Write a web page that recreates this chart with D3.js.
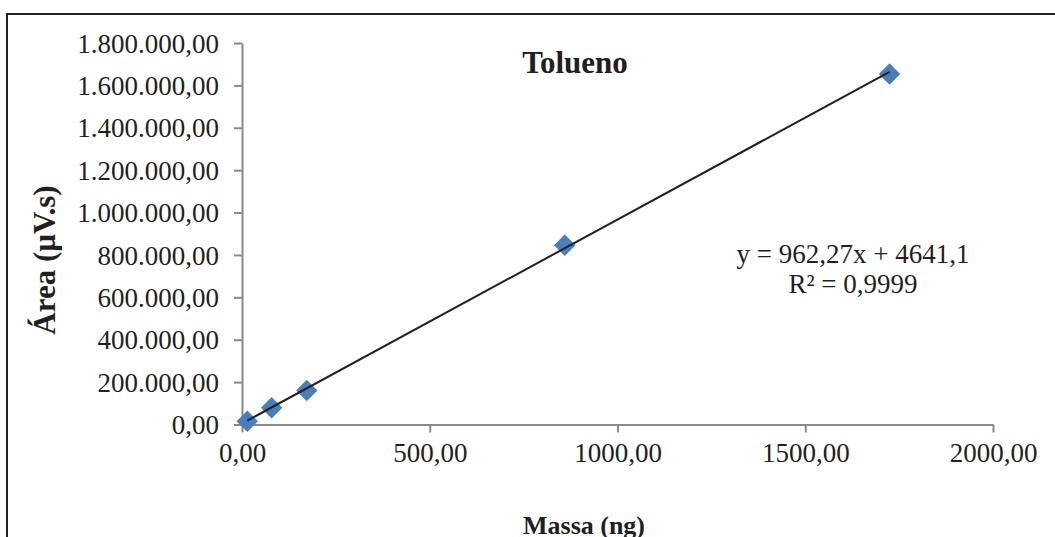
<!DOCTYPE html>
<html>
<head>
<meta charset="utf-8">
<script src="https://cdn.jsdelivr.net/npm/d3@7"></script>
<style>
  body { margin: 0; background: #fff; }
  text { font-family: "Liberation Serif", "Times New Roman", serif; fill: #231f20; }
</style>
</head>
<body>
<svg id="chart" width="1055" height="537"></svg>
<script>
// data
var massa = [14.1, 79, 172.5, 859.5, 1724.5];
var area = [15600, 78900, 160600, 845700, 1653500];
var x_ticks = [0, 500, 1000, 1500, 2000];
var y_ticks = [0, 200000, 400000, 600000, 800000, 1000000, 1200000, 1400000, 1600000, 1800000];
var slope = 962.27;
var intercept = 4641.1;
var eq_lines = ["y = 962,27x + 4641,1", "R² = 0,9999"];

var svg = d3.select("#chart");
var axis_color = "#898989";
var mark_color = "#4a7ebb";

// outer frame (runs off the right and bottom of the picture)
svg.append("rect")
  .attr("x", 7).attr("y", 14)
  .attr("width", 1100).attr("height", 600)
  .attr("fill", "none")
  .attr("stroke", "#231f20")
  .attr("stroke-width", 2);

var x = d3.scaleLinear().domain([0, 2000]).range([242, 993]);
var y = d3.scaleLinear().domain([0, 1800000]).range([424.5, 43]);

function fmt_y(v)
{
  // 1.800.000,00 style
  var s = d3.format(",.2f")(v);
  return s.replace(/,/g, "#").replace(".", ",").replace(/#/g, ".");
}
function fmt_x(v)
{
  return d3.format(".2f")(v).replace(".", ",");
}

// axes
var x_axis = svg.append("g")
  .attr("transform", "translate(0," + y(0) + ")")
  .call(d3.axisBottom(x).tickValues(x_ticks).tickSize(8).tickSizeOuter(0).tickFormat(fmt_x));
var y_axis = svg.append("g")
  .attr("transform", "translate(" + x(0) + ",0)")
  .call(d3.axisLeft(y).tickValues(y_ticks).tickSize(8).tickSizeOuter(0).tickFormat(fmt_y));

[x_axis, y_axis].forEach(function (g)
{
  g.select(".domain").attr("stroke", axis_color).attr("stroke-width", 2);
  g.selectAll(".tick line").attr("stroke", axis_color).attr("stroke-width", 2);
  g.selectAll(".tick text")
    .style("font-family", "'Liberation Serif', serif")
    .style("font-size", "27px")
    .attr("fill", "#231f20");
});
x_axis.selectAll(".tick text").attr("y", 18).attr("dy", "0.71em");
y_axis.selectAll(".tick text").attr("x", -23).attr("dy", "0.34em");

// markers first, trendline drawn on top of them
var pts = massa.map(function (m, i) { return [m, area[i]]; });
svg.append("g")
  .selectAll("path")
  .data(pts)
  .enter()
  .append("path")
  .attr("d", d3.symbol().type(d3.symbolSquare).size(230))
  .attr("transform", function (d) { return "translate(" + x(d[0]) + "," + y(d[1]) + ") rotate(45)"; })
  .attr("fill", mark_color);

var x_min = d3.min(massa), x_max = d3.max(massa);
svg.append("line")
  .attr("x1", x(x_min)).attr("y1", y(slope * x_min + intercept))
  .attr("x2", x(x_max)).attr("y2", y(slope * x_max + intercept))
  .attr("stroke", "#231f20")
  .attr("stroke-width", 2);

// title and axis titles
svg.append("text")
  .attr("x", 575).attr("y", 73)
  .attr("text-anchor", "middle")
  .style("font-size", "31px").style("font-weight", "bold")
  .text("Tolueno");

svg.append("text")
  .attr("transform", "translate(55,260) rotate(-90)")
  .attr("text-anchor", "middle")
  .style("font-size", "31px").style("font-weight", "bold")
  .text("Área (µV.s)");

svg.append("text")
  .attr("x", 584).attr("y", 534)
  .attr("text-anchor", "middle")
  .style("font-size", "26px").style("font-weight", "bold")
  .text("Massa (ng)");

// regression label
svg.selectAll(".eq")
  .data(eq_lines)
  .enter()
  .append("text")
  .attr("class", "eq")
  .attr("x", 853)
  .attr("y", function (d, i) { return 263 + i * 30; })
  .attr("text-anchor", "middle")
  .style("font-size", "27px")
  .text(function (d) { return d; });
</script>
</body>
</html>
